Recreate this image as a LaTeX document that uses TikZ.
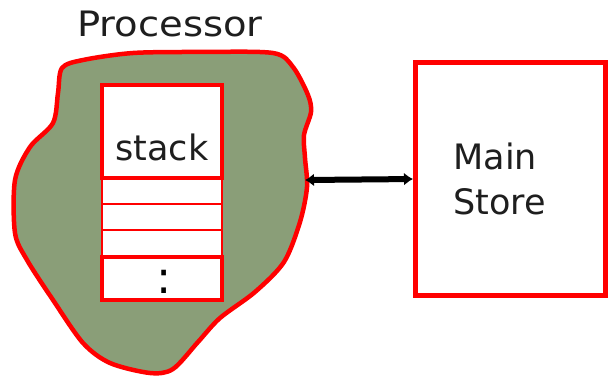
\documentclass[tikz,border=0pt]{standalone}
\usepackage{fontspec}
\setmainfont{DejaVu Sans}
\newfontfamily\widefont[FakeStretch=1.1]{DejaVu Sans}
\usetikzlibrary{arrows.meta, positioning, backgrounds}
\definecolor{procgreen}{RGB}{138,158,120}
\definecolor{boxred}{RGB}{255,0,0}
\definecolor{inkgrey}{RGB}{30,30,30}

\begin{document}
\begin{tikzpicture}[
    x=1pt, y=-1pt,
    font=\fontsize{35}{45}\selectfont,
    text=inkgrey,
    >={Latex[length=9pt, width=13pt]},
    blob/.style={draw=boxred, line width=4.5pt, fill=procgreen},
    store/.style={
        rectangle, draw=boxred, line width=4.5pt, fill=white,
        outer sep=0pt, inner sep=0pt
    },
    cell/.style={
        rectangle, draw=boxred, line width=2pt, fill=white,
        minimum width=120, outer sep=0pt, inner sep=0pt
    },
    thickcell/.style={cell, line width=4pt},
    arr/.style={<->, line width=6pt, draw=black, shorten >=2.5pt,
        shorten <=-3pt}
]
\useasboundingbox[fill=white] (0,0) rectangle (610,379);

% Processor outline
\draw[blob] plot[smooth cycle, tension=0.5] coordinates {
    (62,68) (83,60) (133,53) (200,52) (273,53) (293,67) (308,95)
    (311,112) (304,135) (305,158) (307,187) (300,222) (284,262)
    (255,292) (220,318) (198,342) (173,369) (150,373) (110,363)
    (83,343) (53,300) (27,260) (15,233) (15,180) (30,147) (53,123)
    (58,93)};
\node[font=\widefont\fontsize{35}{45}\selectfont] (proclabel)
    at (170,24) {Processor};

% Stack cells, thin ones first
\node[cell, minimum height=26] (cella) at (162,191) {};
\node[cell, minimum height=26] (cellb) at (162,217) {};
\node[cell, minimum height=27] (cellc) at (162,243.5) {};
\node[thickcell, minimum height=93,
    label={[yshift=-16pt]center:stack}] (stacktop) at (162,131.5) {};
\node[thickcell, minimum height=43,
    label={[xshift=2pt, yshift=-3.5pt, font=\fontsize{45}{50}\selectfont,
        text=black]center:{:}}] (stackrest) at (162,278.5) {};

% Main store
\node[store, minimum width=190, minimum height=233,
    text width=114pt, align=left] (mainstore) at (510.5,179)
    {Main\\Store};

% Link between processor and store
\coordinate (procport) at (308,180);
\draw[arr] (procport) -- (mainstore.west);

\end{tikzpicture}
\end{document}
